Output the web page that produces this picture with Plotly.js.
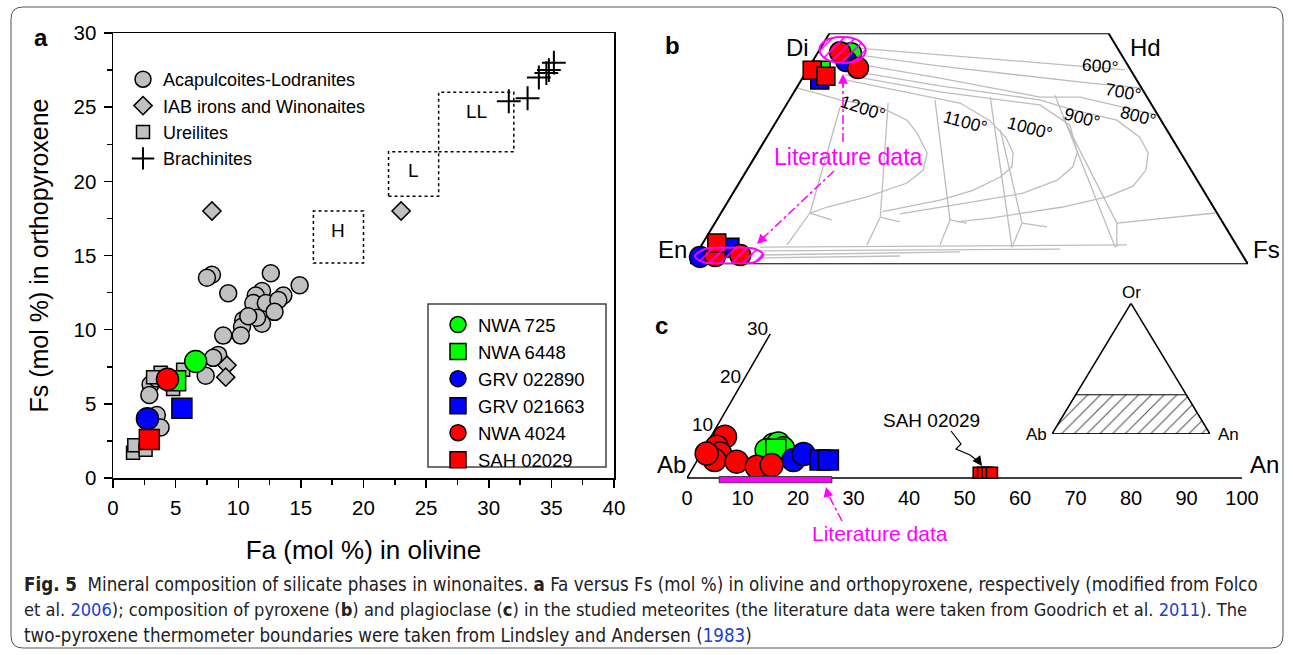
<!DOCTYPE html>
<html><head><meta charset="utf-8">
<script src="https://cdn.plot.ly/plotly-3.0.1.min.js"></script>
<style>html,body{margin:0;padding:0;background:#fff;}#chart{width:1293px;height:655px;}</style>
</head><body><div id="chart"></div>
<script>
// ---------------- Panel a : Fa (olivine) vs Fs (orthopyroxene) ----------------
const acaFa = [7.9, 7.5, 12.6, 9.2, 14.9, 11.9, 11.4, 11.2, 12.2, 13.6, 13.2, 12.9, 11.9, 10.4, 10.3, 10.2, 8.8, 11.5, 8.4, 8.0, 7.4, 3.0, 2.9, 3.5, 3.8, 3.5, 10.8];
const acaFs = [13.7, 13.5, 13.8, 12.45, 13.0, 12.6, 12.3, 11.8, 11.8, 12.3, 12.0, 11.2, 10.4, 10.65, 10.2, 9.6, 9.6, 10.8, 8.3, 8.1, 6.9, 6.3, 5.6, 4.25, 3.4, 6.7, 10.9];
const iabFa = [7.9, 23.0, 9.1, 9.0];
const iabFs = [18.0, 18.0, 7.6, 6.8];
const ureFa = [1.6, 1.7, 2.6, 5.6, 4.8, 3.8, 3.2, 5.1];
const ureFs = [1.7, 2.2, 1.9, 7.3, 6.0, 7.1, 6.8, 6.6];
const braFa = [31.6, 33.1, 34.0, 34.6, 35.2, 34.8];
const braFs = [25.4, 25.6, 27.0, 27.3, 28.0, 27.5];
const groupNames = ['Acapulcoites-Lodranites', 'IAB irons and Winonaites', 'Ureilites', 'Brachinites'];

const sampleNames = ['NWA 725', 'NWA 6448', 'GRV 022890', 'GRV 021663', 'NWA 4024', 'SAH 02029'];
const sampleColors = ['#00ff00', '#00ff00', '#0000ff', '#0000ff', '#ff0000', '#ff0000'];
const sampleSymbols = ['circle', 'square', 'circle', 'square', 'circle', 'square'];
const sampleFa = [6.6, 5.0, 2.75, 5.5, 4.35, 2.9];
const sampleFs = [7.85, 6.55, 4.0, 4.7, 6.65, 2.6];

const chondGroups = ['H', 'L', 'LL'];
const chondFaMin = [16, 22, 26];
const chondFaMax = [20, 26, 32];
const chondFsMin = [14.5, 19, 22];
const chondFsMax = [18, 22, 26];

// ---------------- Panel b : pyroxene quadrilateral (Fs, Wo) ----------------
const pxWo = [[45.7], [42.0, 3.5], [44.0, 1.6], [39.9, 3.7], [45.9, 42.5, 1.8, 2.0], [42.0, 40.7, 4.6]];
const pxFs = [[6.0], [2.5, 4.5], [6.0, 1.0], [3.3, 5.3], [3.95, 8.85, 3.6, 8.0], [0.9, 4.0, 2.5]];
const litDiFs = [0.0, 0.0, 2.6, 5.85, 8.3, 8.3, 5.4, 2.2, 0.0];
const litDiWo = [46.4, 48.3, 49.2, 48.5, 46.4, 44.4, 43.6, 44.4, 46.4];
const litEnFs = [0.0, 1.05, 5.2, 10.0, 12.1, 11.4, 6.9, 2.05, 0.0];
const litEnWo = [1.8, 3.3, 3.6, 3.3, 2.0, 0.5, 0.2, 0.5, 1.8];
// thermometer boundaries (projected position along En-Fs, Wo)
const iso600X = [27.8, 44.8, 62.7, 78.0], iso600Wo = [47.0, 45.3, 43.6, 42.1];
const iso700X = [27.8, 44.8, 71.7, 80.6], iso700Wo = [45.7, 42.9, 39.2, 38.2];
const iso800X = [27.8, 44.8, 62.7, 69.9, 83.7], iso800Wo = [43.8, 40.3, 36.2, 36.2, 32.3];
const iso900X = [27.8, 44.8, 62.7, 68.6, 76.5, 80.6, 82.1, 81.7, 79.4, 74.7, 66.8, 59.7, 53.8, 47.8];
const iso900Wo = [42.1, 38.6, 35.6, 33.4, 31.2, 27.5, 24.1, 20.4, 16.9, 14.6, 12.4, 11.1, 10.0, 9.2];
const iso1000X = [27.8, 44.8, 62.7, 68.1, 69.4, 68.6, 65.8, 59.7, 50.7, 44.8, 37.6];
const iso1000Wo = [41.0, 37.3, 34.5, 30.1, 24.1, 21.1, 18.2, 15.4, 13.5, 12.4, 10.9];
const iso1100X = [27.8, 48.4, 53.6, 56.6, 57.9, 57.7, 55.6, 50.7, 44.8, 34.5];
const iso1100Wo = [39.9, 34.9, 31.2, 27.5, 24.1, 21.1, 18.9, 16.0, 13.9, 11.4];
const iso1200X = [19.2, 26.9, 34.1, 38.9, 40.7, 42.5, 41.8, 38.9, 31.7, 24.6, 21.5];
const iso1200Wo = [38.2, 35.6, 34.0, 31.2, 28.4, 24.1, 20.4, 17.6, 14.6, 12.4, 11.1];
const vert1X = [26.9, 21.5, 17.4], vert1Wo = [34.0, 11.1, 4.2];
const vert2X = [35.5, 34.1, 31.7], vert2Wo = [34.9, 10.2, 4.2];
const vert3X = [43.9, 46.6, 44.8], vert3Wo = [35.6, 9.6, 4.2];
const vert4X = [53.8, 57.7], vert4Wo = [36.2, 3.7];
const vert5X = [55.6, 59.5, 57.7], vert5Wo = [29.1, 8.9, 3.7];
const vert6X = [65.4, 76.2], vert6Wo = [36.6, 3.7];
const vert7X = [66.8, 76.5, 76.5], vert7Wo = [31.9, 8.9, 3.7];
const stub1X = [21.5, 25.4], stub1Wo = [11.1, 9.6];
const stub2X = [34.1, 37.6], stub2Wo = [10.2, 9.2];
const stub3X = [46.6, 49.6], stub3Wo = [9.6, 8.9];
const stub4X = [59.5, 64.0], stub4Wo = [8.9, 8.1];
const stub5X = [76.5, 94.1], stub5Wo = [8.9, 11.1];
const opx1X = [12.5, 78.3], opx1Wo = [3.7, 4.2];
const opx2X = [12.5, 66.3], opx2Wo = [2.9, 3.3];
const opx3X = [12.5, 48.4], opx3Wo = [2.0, 2.7];
const opx4X = [12.5, 37.6], opx4Wo = [1.4, 1.8];
const isoLabels = ['600°', '700°', '800°', '900°', '1000°', '1100°', '1200°'];
const isoLabelX = [73.5, 77.6, 80.2, 70.3, 60.9, 49.3, 31.0];
const isoLabelWo = [42.9, 37.3, 32.0, 31.7, 29.5, 30.8, 33.8];
const isoLabelAngle = [5, 10, 15, 15, 15, 15, 18];

// ---------------- Panel c : plagioclase (An, Or) ----------------
const plAn = [[12.1, 12.85, 11.45, 14.2], [13.0], [17.3, 18.5], [22.1, 23.6], [2.55, 2.1, 3.4, 3.1, 7.25, 11.4, 13.9, 1.0], [52.0, 52.8, 53.6, 54.4]];
const plOr = [[6.9, 7.2, 5.8, 6.2], [6.0], [3.75, 5.0], [3.75, 3.75], [8.6, 6.5, 5.1, 3.75, 3.4, 2.35, 2.7, 5.1], [1.1, 1.1, 1.1, 1.1]];
const litAnRange = [5.8, 26.1];
const orTicks = [10, 20, 30];
const anTicks = [0, 10, 20, 30, 40, 50, 60, 70, 80, 90, 100];
const insetHatchOr = 30;

// ---------------- helpers ----------------
const W = 1293, H = 655;
const PX = v => v / W, PY = v => 1 - v / H;
const FONT = 'Liberation Sans, Arial, sans-serif';
const traces = [];

// Panel a traces
traces.push({x: acaFa, y: acaFs, type: 'scatter', mode: 'markers', name: groupNames[0], legend: 'legend', cliponaxis: false,
  marker: {symbol: 'circle', size: 17, color: '#c0c0c0', line: {color: '#000', width: 1.5}}});
traces.push({x: iabFa, y: iabFs, type: 'scatter', mode: 'markers', name: groupNames[1], legend: 'legend', cliponaxis: false,
  marker: {symbol: 'diamond', size: 14, color: '#c0c0c0', line: {color: '#000', width: 1.5}}});
traces.push({x: ureFa, y: ureFs, type: 'scatter', mode: 'markers', name: groupNames[2], legend: 'legend', cliponaxis: false,
  marker: {symbol: 'square', size: 13, color: '#c0c0c0', line: {color: '#000', width: 1.5}}});
traces.push({x: braFa, y: braFs, type: 'scatter', mode: 'markers', name: groupNames[3], legend: 'legend', cliponaxis: false,
  marker: {symbol: 'cross-thin', size: 17, color: '#000', line: {color: '#000', width: 2}}});
sampleNames.forEach((n, i) => {
  traces.push({x: [sampleFa[i]], y: [sampleFs[i]], type: 'scatter', mode: 'markers', name: n, legend: 'legend2', cliponaxis: false,
    marker: {symbol: sampleSymbols[i], size: sampleSymbols[i] === 'circle' ? 22 : 20, color: sampleColors[i], line: {color: '#000', width: 1.5}}});
});

// Panel b traces
const grayCurves = [[iso600X, iso600Wo], [iso700X, iso700Wo], [iso800X, iso800Wo], [iso900X, iso900Wo], [iso1000X, iso1000Wo],
  [iso1100X, iso1100Wo], [iso1200X, iso1200Wo], [vert1X, vert1Wo], [vert2X, vert2Wo], [vert3X, vert3Wo], [vert4X, vert4Wo],
  [vert5X, vert5Wo], [vert6X, vert6Wo], [vert7X, vert7Wo], [stub1X, stub1Wo], [stub2X, stub2Wo], [stub3X, stub3Wo],
  [stub4X, stub4Wo], [stub5X, stub5Wo], [opx1X, opx1Wo], [opx2X, opx2Wo], [opx3X, opx3Wo], [opx4X, opx4Wo]];
grayCurves.forEach(c => traces.push({x: c[0], y: c[1], xaxis: 'x2', yaxis: 'y2', type: 'scatter', mode: 'lines', showlegend: false,
  line: {color: '#bdbdbd', width: 1.3}, hoverinfo: 'skip'}));
// quadrilateral frame En-Fs-Hd-Di
traces.push({x: [0, 100, 75, 25, 0], y: [0, 0, 50, 50, 0], xaxis: 'x2', yaxis: 'y2', type: 'scatter', mode: 'lines', showlegend: false,
  line: {color: '#000', width: 2}});
sampleNames.forEach((n, i) => {
  traces.push({x: pxFs[i].map((f, j) => f + pxWo[i][j] / 2), y: pxWo[i], xaxis: 'x2', yaxis: 'y2', type: 'scatter', mode: 'markers',
    showlegend: false, cliponaxis: false,
    marker: {symbol: sampleSymbols[i], size: sampleSymbols[i] === 'circle' ? 21 : 18, color: sampleColors[i], line: {color: '#000', width: 1.5}}});
});
[[litDiFs, litDiWo], [litEnFs, litEnWo]].forEach(e => traces.push({
  x: e[0].map((f, j) => f + e[1][j] / 2), y: e[1], xaxis: 'x2', yaxis: 'y2', type: 'scatter', mode: 'lines', showlegend: false,
  fill: 'toself', fillcolor: 'rgba(0,0,0,0)', line: {color: '#ff00ff', width: 2, shape: 'spline', smoothing: 1},
  fillpattern: {shape: '/', fgcolor: '#ff00ff', bgcolor: 'rgba(0,0,0,0)', size: 8, solidity: 0.2}}));

// Panel c traces
traces.push({x: [100, 0, orTicks[2] / 2], y: [0, 0, orTicks[2]], xaxis: 'x3', yaxis: 'y3', type: 'scatter', mode: 'lines', showlegend: false,
  line: {color: '#000', width: 1.5}});
sampleNames.forEach((n, i) => {
  const isSah = i === 5;
  traces.push({x: plAn[i].map((a, j) => a + plOr[i][j] / 2), y: plOr[i], xaxis: 'x3', yaxis: 'y3', type: 'scatter', mode: 'markers',
    showlegend: false, cliponaxis: false,
    marker: {symbol: sampleSymbols[i], size: isSah ? 11 : (sampleSymbols[i] === 'circle' ? 23 : 20), color: sampleColors[i], line: {color: '#000', width: 1.5}}});
});
// inset triangle Ab-An-Or
traces.push({x: [0, 100, 100 - insetHatchOr / 2, insetHatchOr / 2, 0], y: [0, 0, insetHatchOr, insetHatchOr, 0], xaxis: 'x4', yaxis: 'y4',
  type: 'scatter', mode: 'lines', showlegend: false, fill: 'toself', fillcolor: 'rgba(0,0,0,0)', line: {color: '#000', width: 1},
  fillpattern: {shape: '/', fgcolor: '#555', bgcolor: 'rgba(0,0,0,0)', size: 9, solidity: 0.12}});
traces.push({x: [0, 100, 50, 0], y: [0, 0, 100, 0], xaxis: 'x4', yaxis: 'y4', type: 'scatter', mode: 'lines', showlegend: false,
  line: {color: '#000', width: 1.5}});

// ---------------- shapes ----------------
function roundRect(x0, y0, x1, y1, r) {
  const X = PX, Y = PY;
  return `M${X(x0 + r)},${Y(y0)} L${X(x1 - r)},${Y(y0)} Q${X(x1)},${Y(y0)} ${X(x1)},${Y(y0 + r)} L${X(x1)},${Y(y1 - r)} Q${X(x1)},${Y(y1)} ${X(x1 - r)},${Y(y1)} L${X(x0 + r)},${Y(y1)} Q${X(x0)},${Y(y1)} ${X(x0)},${Y(y1 - r)} L${X(x0)},${Y(y0 + r)} Q${X(x0)},${Y(y0)} ${X(x0 + r)},${Y(y0)} Z`;
}
const shapes = [];
shapes.push({type: 'path', xref: 'paper', yref: 'paper', path: roundRect(11, 7, 1283, 648, 12), line: {color: '#555', width: 1}, layer: 'below'});
chondGroups.forEach((g, i) => shapes.push({type: 'rect', xref: 'x', yref: 'y', x0: chondFaMin[i], x1: chondFaMax[i], y0: chondFsMin[i], y1: chondFsMax[i],
  line: {color: '#000', width: 1.5, dash: 'dot'}}));
shapes.push({type: 'rect', xref: 'paper', yref: 'paper', x0: PX(428), x1: PX(606), y0: PY(467), y1: PY(304), line: {color: '#444', width: 1.5}, layer: 'below'});
shapes.push({type: 'rect', xref: 'x3', yref: 'y3', x0: litAnRange[0], x1: litAnRange[1], y0: -1.0, y1: 0.3, fillcolor: '#ff00ff', line: {color: '#333', width: 1}});
// dash-dot arrow shafts
[[843, 142, 843, 82], [834, 171, 762, 239], [842, 521, 828, 494]].forEach(s => shapes.push({type: 'line', xref: 'paper', yref: 'paper',
  x0: PX(s[0]), y0: PY(s[1]), x1: PX(s[2]), y1: PY(s[3]), line: {color: '#ff00ff', width: 1.5, dash: 'dashdot'}}));
shapes.push({type: 'path', xref: 'paper', yref: 'paper', path: `M${PX(951)},${PY(431)} L${PX(961)},${PY(444)} L${PX(956)},${PY(449)} L${PX(970)},${PY(455)} L${PX(979)},${PY(462)}`,
  line: {color: '#000', width: 1.2}});

// ---------------- annotations ----------------
const ann = [];
function txt(t, x, y, size, opts) {
  ann.push(Object.assign({text: t, x: PX(x), y: PY(y), xref: 'paper', yref: 'paper', showarrow: false, xanchor: 'center', yanchor: 'middle',
    font: {family: FONT, size: size, color: '#000'}}, opts || {}));
}
txt('<b>a</b>', 41, 38, 24);
txt('<b>b</b>', 672, 45, 24);
txt('<b>c</b>', 661, 325, 24);
chondGroups.forEach((g, i) => ann.push({text: g, x: (chondFaMin[i] + chondFaMax[i]) / 2, y: chondFsMax[i] - 1.3, xref: 'x', yref: 'y',
  showarrow: false, font: {family: FONT, size: 19, color: '#000'}}));
txt('Di', 797, 48, 24);
txt('Hd', 1145, 48, 24);
txt('En', 672, 250, 24);
txt('Fs', 1266, 250, 24);
isoLabels.forEach((t, i) => ann.push({text: t, x: isoLabelX[i], y: isoLabelWo[i], xref: 'x2', yref: 'y2', showarrow: false, textangle: isoLabelAngle[i],
  font: {family: FONT, size: 17.5, color: '#000'}}));
txt('Literature data', 848, 157, 23, {font: {family: FONT, size: 23, color: '#ff00ff'}});
txt('Ab', 671, 464, 24);
txt('An', 1264, 464, 24);
orTicks.forEach(o => ann.push({text: String(o), x: o / 2, y: o, xref: 'x3', yref: 'y3', xanchor: 'right', yanchor: 'middle', xshift: 0, yshift: 5,
  showarrow: false, font: {family: FONT, size: 19, color: '#000'}}));
txt('SAH 02029', 931, 420, 19);
txt('Literature data', 880, 533, 21, {font: {family: FONT, size: 21, color: '#ff00ff'}});
txt('Or', 1131, 292, 17);
txt('Ab', 1036, 434, 17);
txt('An', 1228, 434, 17);
// arrow heads
[[843, 74, 0, 14], [757, 244, 10, -10], [826, 487, 3, 12], [982, 466, -5, -7]].forEach((a, i) => ann.push({text: '', x: PX(a[0]), y: PY(a[1]),
  xref: 'paper', yref: 'paper', showarrow: true, ax: a[2], ay: a[3], arrowhead: 2, arrowsize: 1.3, arrowwidth: 1.5,
  arrowcolor: i === 3 ? '#000' : '#ff00ff'}));
// caption
const capFont = 'Liberation Sans Narrow, DejaVu Sans Condensed, Arial Narrow, sans-serif';
const blue = s => `<span style="color:#1a3fd0">${s}</span>`;
const capLines = [
  '<b>Fig. 5</b>  Mineral composition of silicate phases in winonaites. <b>a</b> Fa versus Fs (mol %) in olivine and orthopyroxene, respectively (modified from Folco',
  'et al. ' + blue('2006') + '); composition of pyroxene (<b>b</b>) and plagioclase (<b>c</b>) in the studied meteorites (the literature data were taken from Goodrich et al. ' + blue('2011') + '). The',
  'two-pyroxene thermometer boundaries were taken from Lindsley and Andersen (' + blue('1983') + ')'];
const capY = [584, 609, 635];
const capSize = [18.6, 18.1, 18.6];
capLines.forEach((t, i) => txt(t, 22, capY[i], capSize[i], {xanchor: 'left', font: {family: capFont, size: capSize[i], color: '#222'}}));

// ---------------- layout ----------------
const axA = {showgrid: false, zeroline: false, showline: true, mirror: true, linecolor: '#000', linewidth: 1.5, ticks: 'outside', ticklen: 8, tickwidth: 1.5,
  tickcolor: '#000', tickfont: {family: FONT, size: 20.5, color: '#000'}, dtick: 5,
  minor: {ticks: 'outside', ticklen: 5, tickwidth: 1.5, tickcolor: '#000', dtick: 2.5}};
const hidden = {visible: false, showgrid: false, zeroline: false, fixedrange: true};
const layout = {
  width: W, height: H, margin: {l: 0, r: 0, t: 0, b: 0}, paper_bgcolor: '#fff', plot_bgcolor: 'rgba(0,0,0,0)',
  font: {family: FONT, color: '#000'},
  xaxis: Object.assign({}, axA, {domain: [PX(113), PX(614)], range: [0, 40], anchor: 'y', ticklabelstandoff: 3,
    title: {text: 'Fa (mol %) in olivine', font: {family: FONT, size: 26, color: '#000'}, standoff: 22}}),
  yaxis: Object.assign({}, axA, {domain: [PY(478), PY(33)], range: [0, 30], anchor: 'x', ticklabelstandoff: 3,
    title: {text: 'Fs (mol %) in orthopyroxene', font: {family: FONT, size: 25, color: '#000'}, standoff: 18}}),
  xaxis2: Object.assign({}, hidden, {domain: [PX(690), PX(1248)], range: [0, 100], anchor: 'y2'}),
  yaxis2: Object.assign({}, hidden, {domain: [PY(264.3), PY(33.3)], range: [0, 50], anchor: 'x2'}),
  xaxis3: {domain: [PX(687), PX(1242)], range: [0, 100], anchor: 'y3', showgrid: false, zeroline: false, showline: false, ticks: '',
    tickvals: anTicks, tickfont: {family: FONT, size: 20, color: '#000'}, fixedrange: true},
  yaxis3: Object.assign({}, hidden, {domain: [PY(483.8), PY(300.2)], range: [-1.2, 37], anchor: 'x3'}),
  xaxis4: Object.assign({}, hidden, {domain: [PX(1052), PX(1210)], range: [0, 100], anchor: 'y4'}),
  yaxis4: Object.assign({}, hidden, {domain: [PY(434), PY(303.3)], range: [0, 100], anchor: 'x4'}),
  legend: {x: PX(123), y: PY(61), xanchor: 'left', yanchor: 'top', bgcolor: 'rgba(0,0,0,0)', borderwidth: 0,
    font: {family: FONT, size: 18, color: '#000'}, tracegroupgap: 0},
  legend2: {x: PX(438), y: PY(306), xanchor: 'left', yanchor: 'top', bgcolor: 'rgba(0,0,0,0)', borderwidth: 0,
    font: {family: FONT, size: 18.5, color: '#000'}, tracegroupgap: 0},
  shapes: shapes, annotations: ann, hovermode: false
};
Plotly.newPlot('chart', traces, layout, {staticPlot: true, displayModeBar: false});
</script></body></html>
